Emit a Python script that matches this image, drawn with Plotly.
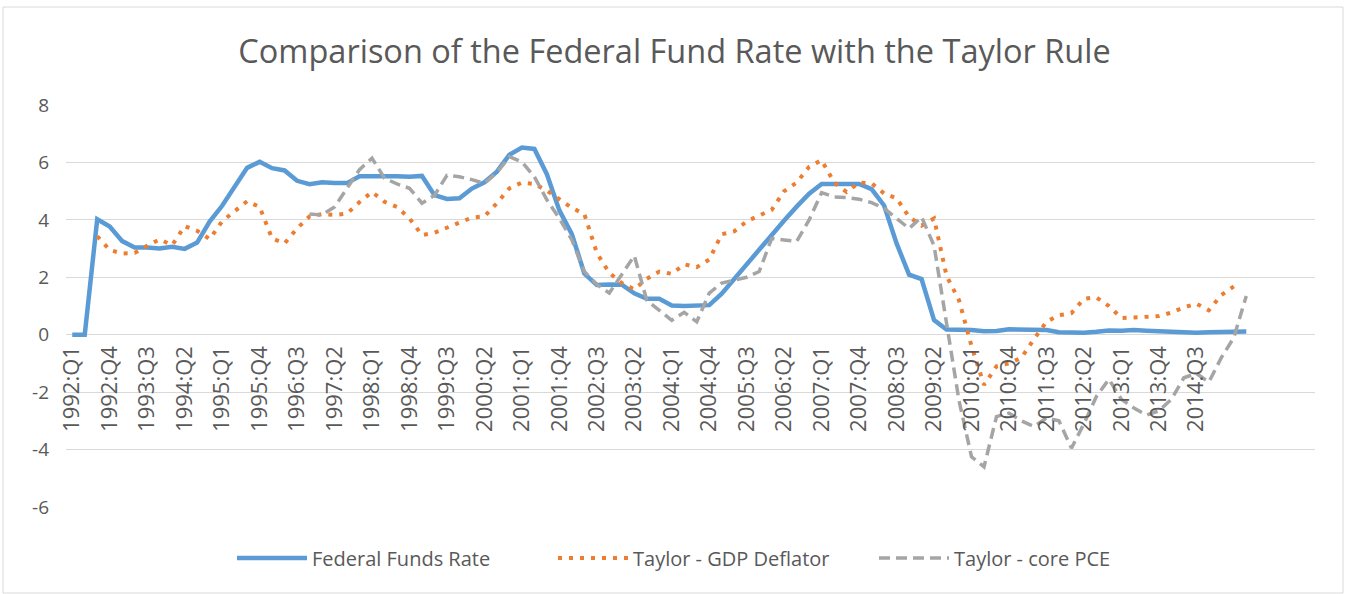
import plotly.graph_objects as go

# ---------------- data ----------------
quarters = [f"{y}:Q{q}" for y in range(1992, 2017) for q in range(1, 5)]  # category axis (100 slots)

tick_labels = ["1992:Q1", "1992:Q4", "1993:Q3", "1994:Q2", "1995:Q1", "1995:Q4", "1996:Q3",
               "1997:Q2", "1998:Q1", "1998:Q4", "1999:Q3", "2000:Q2", "2001:Q1", "2001:Q4",
               "2002:Q3", "2003:Q2", "2004:Q1", "2004:Q4", "2005:Q3", "2006:Q2", "2007:Q1",
               "2007:Q4", "2008:Q3", "2009:Q2", "2010:Q1", "2010:Q4", "2011:Q3", "2012:Q2",
               "2013:Q1", "2013:Q4", "2014:Q3"]

y_tick_values = [-6, -4, -2, 0, 2, 4, 6, 8]
y_tick_text = ["-6", "-4", "-2", "0", "2", "4", "6", "8"]

# Federal Funds Rate, from 1992:Q1 (95 quarters)
fed_funds = [0.00, 0.00, 4.02, 3.77, 3.26, 3.04, 3.04, 3.00, 3.06, 2.99,
             3.21, 3.94, 4.49, 5.17, 5.81, 6.02, 5.80, 5.72, 5.36, 5.24,
             5.31, 5.28, 5.28, 5.52, 5.53, 5.51, 5.52, 5.50, 5.53, 4.86,
             4.73, 4.75, 5.09, 5.31, 5.68, 6.27, 6.52, 6.47, 5.59, 4.33,
             3.50, 2.13, 1.73, 1.75, 1.74, 1.44, 1.25, 1.25, 1.02, 1.00,
             1.00, 1.03, 1.43, 1.95, 2.47, 2.94, 3.46, 3.98, 4.46, 4.91,
             5.25, 5.25, 5.26, 5.25, 5.07, 4.50, 3.18, 2.09, 1.94, 0.51,
             0.18, 0.18, 0.16, 0.12, 0.13, 0.19, 0.19, 0.19, 0.16, 0.09,
             0.08, 0.07, 0.10, 0.15, 0.14, 0.16, 0.14, 0.12, 0.08, 0.09,
             0.07, 0.09, 0.09, 0.10, 0.11]

# Taylor rule with GDP deflator, from 1992:Q3 (92 quarters)
taylor_gdp_start = "1992:Q3"
taylor_gdp = [3.43, 2.95, 2.83, 2.85, 3.10, 3.32, 3.12, 3.78, 3.62, 3.33,
              3.95, 4.30, 4.65, 4.45, 3.35, 3.18, 3.70, 4.12, 4.20, 4.17,
              4.22, 4.62, 4.97, 4.63, 4.45, 4.05, 3.47, 3.55, 3.72, 3.90,
              4.08, 4.12, 4.58, 5.10, 5.30, 5.25, 5.02, 4.72, 4.42, 4.20,
              2.85, 2.15, 1.80, 1.58, 1.95, 2.20, 2.12, 2.45, 2.35, 2.62,
              3.50, 3.60, 3.95, 4.15, 4.35, 5.00, 5.30, 5.85, 6.08, 5.30,
              4.97, 5.30, 5.27, 4.92, 4.75, 4.10, 3.80, 4.05, 2.05, 1.20,
              -0.40, -1.75, -1.10, -1.00, -0.80, -0.15, 0.45, 0.68, 0.75, 1.25,
              1.30, 1.00, 0.58, 0.60, 0.62, 0.65, 0.77, 0.95, 1.08, 0.85,
              1.38, 1.68]

# Taylor rule with core PCE, from 1996:Q4 (76 quarters)
taylor_pce_start = "1996:Q4"
taylor_pce = [4.20, 4.17, 4.45, 5.10, 5.75, 6.15, 5.45, 5.25, 5.10, 4.58,
              4.85, 5.55, 5.50, 5.40, 5.27, 5.65, 6.20, 6.02, 5.50, 4.70,
              4.05, 3.30, 2.20, 1.75, 1.45, 2.10, 2.75, 1.20, 0.85, 0.50,
              0.78, 0.45, 1.45, 1.80, 1.90, 2.00, 2.20, 3.35, 3.30, 3.25,
              4.00, 4.95, 4.80, 4.78, 4.72, 4.60, 4.40, 4.05, 3.70, 4.10,
              3.10, 0.40, -2.30, -4.25, -4.60, -2.85, -2.73, -3.00, -3.20, -2.90,
              -3.00, -3.95, -3.10, -2.15, -1.55, -2.25, -2.55, -2.80, -2.65, -2.25,
              -1.50, -1.35, -1.65, -0.80, -0.10, 1.35]

series_names = ["Federal Funds Rate", "Taylor - GDP Deflator", "Taylor - core PCE"]
colors = ["#5B9BD5", "#ED7D31", "#A5A5A5"]

# ---------------- figure ----------------
def xs(start, n):
    i0 = quarters.index(start)
    return quarters[i0:i0 + n]

fig = go.Figure()
fig.add_trace(go.Scatter(x=xs("1992:Q1", len(fed_funds)), y=fed_funds, mode="lines",
                         name=series_names[0], line=dict(color=colors[0], width=4.5)))
fig.add_trace(go.Scatter(x=xs(taylor_gdp_start, len(taylor_gdp)), y=taylor_gdp, mode="lines",
                         name=series_names[1], line=dict(color=colors[1], width=4, dash="4px,7px")))
fig.add_trace(go.Scatter(x=xs(taylor_pce_start, len(taylor_pce)), y=taylor_pce, mode="lines",
                         name=series_names[2], line=dict(color=colors[2], width=3.5, dash="11px,6px")))

font_family = "Open Sans, Liberation Sans, sans-serif"
text_color = "#595959"

fig.update_layout(
    width=1349, height=594,
    margin=dict(l=66, r=34, t=105, b=87),
    paper_bgcolor="white", plot_bgcolor="white",
    font=dict(family=font_family, color=text_color, size=18),
    title=dict(text="Comparison of the Federal Fund Rate with the Taylor Rule",
               x=0.5, xref="container", xanchor="center",
               y=1 - 52 / 594, yref="container", yanchor="middle",
               font=dict(family=font_family, size=32.5, color=text_color)),
    xaxis=dict(type="category", categoryorder="array", categoryarray=quarters,
               range=[-0.5, len(quarters) - 0.5],
               tickmode="array", tickvals=tick_labels, ticktext=tick_labels,
               tickangle=-90, showgrid=False, showline=False, zeroline=False,
               ticks="", anchor="free", position=6 / 14, automargin=False,
               ticklabelstandoff=6, tickfont=dict(size=22, color=text_color)),
    yaxis=dict(range=[-6, 8], tickmode="array", tickvals=y_tick_values, ticktext=y_tick_text,
               showgrid=True, gridcolor="#D9D9D9",
               gridwidth=1, zeroline=False, showline=False, ticks="", automargin=False,
               ticklabelstandoff=16, tickfont=dict(size=19, color=text_color)),
    legend=dict(orientation="h", x=(232 - 66) / 1249, xanchor="left",
                y=(507 - 558) / 402, yanchor="middle", entrywidth=236, itemwidth=70,
                font=dict(size=20, color=text_color), bgcolor="rgba(0,0,0,0)"),
    showlegend=True,
)

# outer chart border
fig.add_shape(type="rect", xref="paper", yref="paper",
              x0=(3 - 66) / 1249, x1=(1343 - 66) / 1249,
              y0=(507 - 593) / 402, y1=(507 - 7) / 402,
              line=dict(color="#D9D9D9", width=1), fillcolor="rgba(0,0,0,0)", layer="below")

fig.write_html("out.html", config={"displayModeBar": False},
               post_script="document.body.style.margin='0';")
